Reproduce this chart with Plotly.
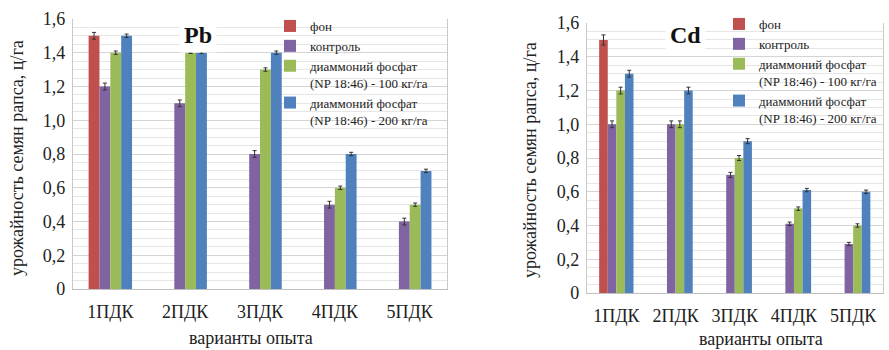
import plotly.graph_objects as go

categories = ["1ПДК", "2ПДК", "3ПДК", "4ПДК", "5ПДК"]
series_names = ["фон", "контроль",
                "диаммоний фосфат<br>(NP 18:46) - 100 кг/га",
                "диаммоний фосфат<br>(NP 18:46) - 200 кг/га"]
colors = ["#C0504D", "#8064A2", "#9BBB59", "#4F81BD"]

pb_fon = [1.5, None, None, None, None]
pb_control = [1.2, 1.1, 0.8, 0.5, 0.4]
pb_dap100 = [1.4, 1.4, 1.3, 0.6, 0.5]
pb_dap200 = [1.5, 1.4, 1.4, 0.8, 0.7]
pb_err = [[0.02, 0, 0, 0, 0], [0.02, 0.02, 0.02, 0.02, 0.02],
          [0.01, 0.005, 0.01, 0.01, 0.01], [0.01, 0.005, 0.01, 0.01, 0.01]]

cd_fon = [1.5, None, None, None, None]
cd_control = [1.0, 1.0, 0.7, 0.41, 0.29]
cd_dap100 = [1.2, 1.0, 0.8, 0.5, 0.4]
cd_dap200 = [1.3, 1.2, 0.9, 0.61, 0.6]
cd_err = [[0.03, 0, 0, 0, 0], [0.02, 0.02, 0.015, 0.01, 0.01],
          [0.02, 0.02, 0.015, 0.01, 0.01], [0.02, 0.02, 0.015, 0.01, 0.01]]

y_ticks = [0, 0.2, 0.4, 0.6, 0.8, 1.0, 1.2, 1.4, 1.6]
y_tick_text = ["0", "0,2", "0,4", "0,6", "0,8", "1,0", "1,2", "1,4", "1,6"]

SERIF = "'Times New Roman', 'Liberation Serif', 'DejaVu Serif', serif"
W, H = 889, 350

fig = go.Figure()

panels = [
    ("x", "y", "legend", [pb_fon, pb_control, pb_dap100, pb_dap200], pb_err),
    ("x2", "y2", "legend2", [cd_fon, cd_control, cd_dap100, cd_dap200], cd_err),
]
for xa, ya, lg, data, errs in panels:
    for name, vals, col, e in zip(series_names, data, colors, errs):
        fig.add_trace(go.Bar(
            x=categories, y=vals, name=name, marker=dict(color=col, line=dict(width=0)),
            error_y=dict(type="data", array=e, visible=True, color="#333333",
                         thickness=1, width=2),
            xaxis=xa, yaxis=ya, legend=lg,
        ))

axis_common_y = dict(
    range=[0, 1.6], tickvals=y_ticks, ticktext=y_tick_text,
    tickfont=dict(family=SERIF, size=18, color="#222"),
    showgrid=True, gridcolor="#d4d4d4", gridwidth=1,
    minor=dict(dtick=0.05, showgrid=True, gridcolor="#e6e6e6", gridwidth=1, tick0=0),
    showline=True, linecolor="#c8c8c8", mirror=True, zeroline=False,
    ticks="", ticklabelstandoff=3, fixedrange=True,
)
axis_common_x = dict(
    tickfont=dict(family=SERIF, size=18, color="#222"),
    showline=True, linecolor="#bfbfbf", showgrid=False, ticks="",
    ticklabelstandoff=6, fixedrange=True,
)

legend_common = dict(xanchor="left", yanchor="top", bgcolor="rgba(255,255,255,0)",
                     font=dict(family=SERIF, size=13, color="#222"),
                     valign="top", tracegroupgap=0, itemwidth=30, borderwidth=0)

fig.update_layout(
    width=W, height=H,
    margin=dict(l=0, r=0, t=0, b=0, autoexpand=False),
    paper_bgcolor="white", plot_bgcolor="white",
    font=dict(family=SERIF),
    barmode="group", bargap=0.42, bargroupgap=0,
    xaxis=dict(domain=[0.082, 0.503], anchor="y", **axis_common_x),
    yaxis=dict(domain=[0.174, 0.946], anchor="x", **axis_common_y),
    xaxis2=dict(domain=[0.660, 0.993], anchor="y2", **axis_common_x),
    yaxis2=dict(domain=[0.163, 0.934], anchor="x2", **axis_common_y),
    legend=dict(x=270 / W, y=(H - 11) / H, **legend_common),
    legend2=dict(x=719 / W, y=(H - 9) / H, **legend_common),
    showlegend=True,
)

# white background panels behind the legends (hide gridlines, stay under bars)
for x0, x1, y0, y1 in [(289, 447, 15, 128), (737, 889, 13, 126)]:
    fig.add_shape(type="rect", xref="paper", yref="paper",
                  x0=x0 / W, x1=x1 / W, y0=(H - y1) / H, y1=(H - y0) / H,
                  fillcolor="white", line=dict(width=0), layer="below")

for text, x, y in [("<b>Pb</b>", 198, 35), ("<b>Cd</b>", 685, 35)]:
    fig.add_annotation(text=text, x=x / W, y=(H - y) / H,
                       xref="paper", yref="paper", showarrow=False,
                       font=dict(family=SERIF, size=24, color="#111"),
                       bgcolor="white", borderpad=4, xanchor="center", yanchor="middle")

for x, y, t, ang in [
    (17, 158, "урожайность семян рапса, ц/га", -90),
    (530, 160, "урожайность семян рапса, ц/га", -90),
    (251, 338, "варианты опыта", 0),
    (761, 339, "варианты опыта", 0),
]:
    fig.add_annotation(text=t, x=x / W, y=(H - y) / H, xref="paper", yref="paper",
                       showarrow=False, textangle=ang,
                       font=dict(family=SERIF, size=18, color="#222"),
                       xanchor="center", yanchor="middle")

fig.write_html("out.html", post_script="document.body.style.margin='0';",
               config={"displayModeBar": False})
